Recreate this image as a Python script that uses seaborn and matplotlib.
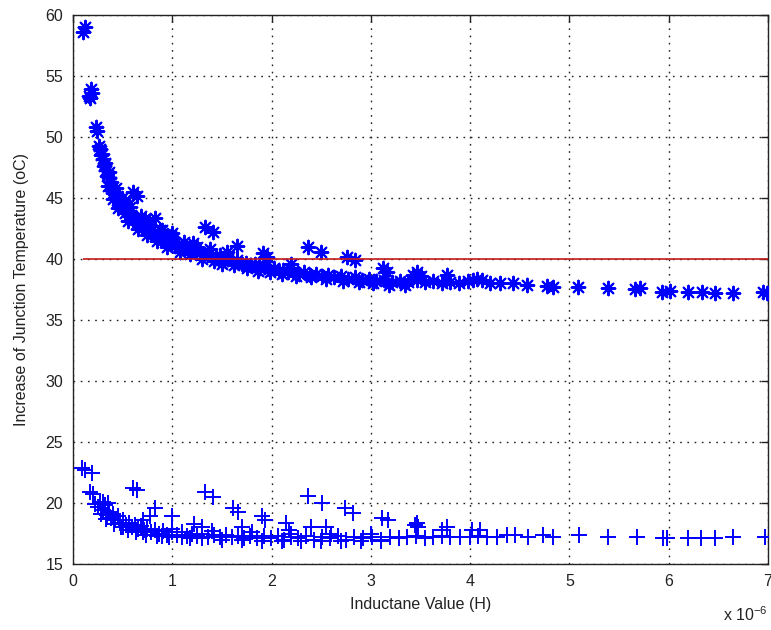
import numpy as np
import pandas as pd
import matplotlib
matplotlib.use("Agg")
import matplotlib.pyplot as plt
import seaborn as sns

# inductance values are in units of 1e-6 H (shown with the "x 10^-6" note)
# upper series ('*' markers)
star_x = [0.10, 0.12, 0.16, 0.18, 0.19, 0.17, 0.23, 0.24,
          0.27, 0.28, 0.30, 0.31, 0.33, 0.34, 0.36, 0.37, 0.39, 0.40, 0.42, 0.44,
          0.46, 0.47, 0.50, 0.52, 0.54, 0.56, 0.58, 0.60, 0.62, 0.64, 0.67, 0.70,
          0.72, 0.75, 0.78, 0.80, 0.83, 0.86, 0.88, 0.91, 0.94, 0.97, 1.00, 1.03,
          1.06, 1.10, 1.13, 1.17, 1.20, 1.24, 1.28, 1.32, 1.36, 1.40, 1.44, 1.48,
          1.52, 1.56, 1.60, 1.65, 1.70, 1.74, 1.78, 1.83, 1.88, 1.92, 1.97, 2.02,
          2.07, 2.12, 2.17, 2.22, 2.28, 2.33, 2.39, 2.45, 2.51, 2.57, 2.63, 2.70,
          2.77, 2.84, 2.91, 2.98, 3.05, 3.13, 3.21, 3.29, 3.37, 3.46, 3.55, 3.63,
          3.72, 3.80, 3.89, 3.98, 4.03, 4.12, 4.20, 4.30, 4.43, 4.57, 4.77, 4.83,
          5.09, 5.39, 5.66, 5.71, 5.93, 6.01, 6.19, 6.34, 6.47, 6.65, 6.95, 6.99,
          0.60, 0.64, 0.83, 1.00, 1.21, 1.33, 1.41, 1.65, 1.91, 1.95, 2.37, 2.50,
          2.76, 2.84, 3.12, 3.16, 3.42, 3.46, 3.77, 3.50, 2.20, 1.55, 0.90, 4.07,
          1.50, 1.62, 1.75, 1.86, 1.98, 2.10, 2.25, 2.40, 2.55, 2.72, 2.88, 3.02,
          3.18, 3.34, 1.08, 1.18, 1.30, 1.42, 0.65, 0.75, 0.85, 0.95, 0.45, 0.55,
          0.35, 0.40, 0.29, 0.32, 0.38, 0.43, 0.49, 0.57, 0.68, 0.77, 0.88, 0.99,
          1.12, 1.25, 1.38, 0.26, 0.36, 0.52, 0.73]
star_y = [58.6, 59.0, 53.4, 53.9, 53.6, 53.2, 50.8, 50.5,
          49.0, 48.5, 48.2, 47.6, 47.3, 46.8, 46.6, 46.0, 45.9, 45.4, 45.3, 44.8,
          44.9, 44.4, 44.2, 43.8, 44.0, 43.5, 43.6, 43.2, 43.4, 42.9, 43.0, 42.6,
          42.8, 42.4, 42.2, 42.4, 41.9, 42.0, 41.7, 41.6, 41.8, 41.3, 41.4, 41.1,
          41.2, 40.9, 41.0, 40.7, 40.8, 40.5, 40.6, 40.3, 40.5, 40.2, 40.1, 40.3,
          39.9, 40.0, 39.8, 39.9, 39.6, 39.7, 39.5, 39.6, 39.3, 39.4, 39.2, 39.3,
          39.0, 39.1, 38.9, 39.0, 38.8, 38.9, 38.7, 38.8, 38.6, 38.7, 38.5, 38.6,
          38.4, 38.5, 38.3, 38.4, 38.2, 38.3, 38.1, 38.2, 38.1, 38.3, 38.1, 38.2,
          38.0, 38.1, 38.0, 38.2, 38.3, 38.3, 38.0, 38.0, 38.0, 37.9, 37.8, 37.7,
          37.7, 37.6, 37.5, 37.6, 37.3, 37.4, 37.3, 37.3, 37.2, 37.2, 37.3, 37.2,
          45.5, 45.2, 43.4, 42.1, 41.3, 42.6, 42.2, 41.1, 40.5, 40.2, 41.0, 40.6,
          40.2, 39.9, 39.3, 38.9, 38.7, 38.9, 38.7, 38.6, 39.6, 40.6, 42.4, 38.4,
          39.6, 39.5, 39.3, 39.0, 38.9, 38.8, 38.6, 38.5, 38.4, 38.2, 38.1, 38.0,
          37.9, 37.9, 40.6, 40.4, 40.0, 39.8, 42.5, 42.0, 41.5, 41.0, 44.2, 43.1,
          46.0, 44.9, 48.6, 47.9, 46.3, 45.8, 45.0, 44.3, 43.5, 43.1, 42.4, 41.9,
          41.4, 41.0, 40.8, 49.3, 47.1, 44.6, 43.3]

# lower series ('+' markers)
plus_x = [0.09, 0.12, 0.19, 0.17, 0.20, 0.22, 0.25, 0.27, 0.30, 0.32, 0.34, 0.36,
          0.38, 0.40, 0.42, 0.45, 0.47, 0.50, 0.53, 0.56, 0.59, 0.62, 0.65, 0.68,
          0.72, 0.75, 0.79, 0.83, 0.87, 0.91, 0.95, 1.00, 1.05, 1.10, 1.15, 1.20,
          1.25, 1.30, 1.36, 1.42, 1.48, 1.54, 1.60, 1.66, 1.72, 1.78, 1.85, 1.92,
          1.99, 2.06, 2.13, 2.20, 2.27, 2.35, 2.43, 2.51, 2.59, 2.67, 2.75, 2.83,
          2.92, 3.01, 3.10, 3.19, 3.28, 3.36, 3.45, 3.55, 3.63, 3.72, 3.80, 3.90,
          4.00, 4.08, 4.17, 4.27, 4.37, 4.45, 4.58, 4.73, 4.83, 5.10, 5.39, 5.68,
          5.94, 5.98, 6.19, 6.33, 6.47, 6.65, 6.97,
          0.60, 0.64, 0.83, 0.78, 1.00, 1.33, 1.41, 1.61, 1.66, 1.90, 1.93, 2.15,
          2.37, 2.51, 2.74, 2.82, 3.11, 3.17, 3.44, 3.46, 3.47, 3.77, 3.72, 4.02,
          4.10, 1.22, 1.30, 2.40, 2.55, 1.70, 2.18, 0.70, 0.35, 0.30,
          0.50, 0.70, 0.90, 1.10, 1.30, 1.50, 1.70, 1.90, 2.10, 2.30, 2.50, 2.70,
          2.90, 3.10, 1.00, 1.40, 1.80, 2.20, 2.60, 3.00,
          0.28, 0.33, 0.41, 0.48, 0.55, 0.63, 0.74, 0.85, 0.97, 1.18]
plus_y = [22.9, 22.7, 22.5, 20.9, 20.7, 19.9, 19.7, 20.0, 19.4, 19.8, 19.0, 19.3,
          18.8, 19.1, 18.6, 18.9, 18.4, 18.6, 18.2, 18.4, 18.0, 18.2, 17.9, 18.1,
          17.8, 17.9, 17.6, 17.8, 17.5, 17.7, 17.4, 17.6, 17.4, 17.6, 17.3, 17.5,
          17.3, 17.5, 17.2, 17.4, 17.2, 17.4, 17.2, 17.3, 17.1, 17.3, 17.1, 17.3,
          17.1, 17.3, 17.0, 17.2, 17.1, 17.3, 17.0, 17.2, 17.1, 17.3, 17.0, 17.2,
          17.1, 17.2, 17.0, 17.2, 17.1, 17.2, 17.3, 17.1, 17.2, 17.3, 17.2, 17.2,
          17.2, 17.3, 17.2, 17.2, 17.4, 17.4, 17.2, 17.4, 17.2, 17.4, 17.2, 17.2,
          17.1, 17.1, 17.1, 17.1, 17.1, 17.2, 17.2,
          21.2, 21.1, 19.6, 18.9, 18.9, 20.9, 20.5, 19.6, 19.3, 18.9, 18.6, 18.4,
          20.6, 20.0, 19.6, 19.2, 18.8, 18.6, 18.2, 18.4, 18.0, 18.0, 17.8, 17.8,
          17.8, 18.3, 18.0, 18.0, 18.0, 18.0, 17.8, 18.6, 20.0, 20.1,
          18.0, 17.6, 17.3, 17.2, 17.1, 17.0, 17.0, 16.9, 16.9, 16.9, 16.9, 16.9,
          16.9, 16.9, 17.9, 17.7, 17.6, 17.5, 17.5, 17.5,
          19.1, 18.7, 18.3, 18.0, 17.8, 17.6, 17.4, 17.3, 17.2, 17.1]

threshold = 40
x_ticks = [0, 1, 2, 3, 4, 5, 6, 7]
y_ticks = [15, 20, 25, 30, 35, 40, 45, 50, 55, 60]

upper = pd.DataFrame({"L": star_x, "T": star_y})
lower = pd.DataFrame({"L": plus_x, "T": plus_y})

sns.set_style("white")
plt.rcParams["font.family"] = ["Liberation Sans", "DejaVu Sans"]

fig = plt.figure(figsize=(7.71, 6.3), dpi=100)
ax = fig.add_axes([73 / 771, 66 / 630, 695 / 771, 549 / 630])

sns.scatterplot(data=upper, x="L", y="T", marker=(8, 2, 0), color="#0000ff",
                s=95, linewidth=1.5, ax=ax, zorder=3)
sns.scatterplot(data=lower, x="L", y="T", marker="+", color="#0000ff",
                s=130, linewidth=1.4, ax=ax, zorder=3)
ax.hlines(threshold, min(star_x), max(x_ticks), color="#c41a1a", linewidth=1.2, zorder=4)

ax.set_xlim(0, 7)
ax.set_ylim(15, 60)
ax.set_xticks(x_ticks)
ax.set_yticks(y_ticks)
ax.grid(True, color="#222222", linestyle=(0, (1.2, 4)), linewidth=1.0)
ax.tick_params(direction="in", top=True, right=True, length=5, width=1,
               labelsize=11.5, colors="#222222", pad=7)
for sp in ax.spines.values():
    sp.set_color("#222222")
    sp.set_linewidth(1.0)

ax.set_xlabel("Inductane Value (H)", fontsize=11.5, color="#222222", labelpad=6)
ax.set_ylabel("Increase of Junction Temperature (oC)", fontsize=11.5,
              color="#222222", labelpad=12)
ax.text(1.0, -0.075, r"x 10$^{\mathregular{-6}}$", transform=ax.transAxes,
        ha="right", va="top", fontsize=11.5, color="#222222")

fig.savefig("out.png", dpi=100)
